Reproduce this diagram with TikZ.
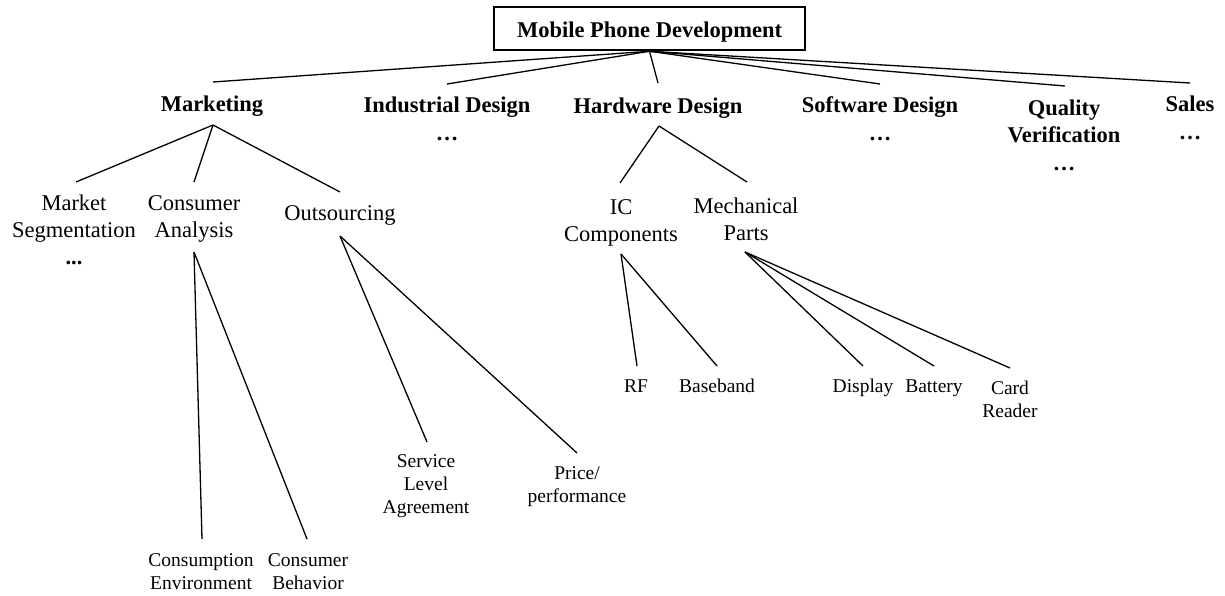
\documentclass[tikz,border=0pt]{standalone}
\usepackage{fontspec}
\setmainfont{Liberation Serif}
\begin{document}
\begin{tikzpicture}[x=1pt,y=-1pt,
  rootbox/.style={draw,line width=2.5pt,minimum width=311pt,minimum height=43pt,
    inner sep=0pt,text height=17pt,text depth=0pt,font=\fontsize{22.5}{27}\selectfont\bfseries},
  lvlone/.style={anchor=base,align=center,inner sep=0pt,font=\fontsize{22.5}{27.5}\selectfont\bfseries},
  lvltwo/.style={anchor=base,align=center,inner sep=0pt,font=\fontsize{22.5}{27}\selectfont},
  lvlthree/.style={anchor=base,align=center,inner sep=0pt,font=\fontsize{19.5}{23}\selectfont},
  link/.style={draw,line width=1.3pt}]
\path[use as bounding box] (0,0) rectangle (1225,595);

% root
\node[rootbox] (root) at (649.5,28.5) {Mobile Phone Development};

% first level (each node sits on the baseline of its last line)
\node[lvlone] (mkt)   at (212,111.5) {Marketing};
\node[lvlone] (ind)   at (447,140) {Industrial Design\\…};
\node[lvlone] (hw)    at (658,113) {Hardware Design};
\node[lvlone] (sw)    at (880,140) {Software Design\\…};
\node[lvlone] (qv)    at (1064,170) {Quality\\Verification\\…};
\node[lvlone] (sales) at (1190,139) {Sales\\…};

% second level
\node[lvltwo] (seg)  at (74,264) {Market\\Segmentation\\\textbf{...}};
\node[lvltwo] (cons) at (194,237) {Consumer\\Analysis};
\node[lvltwo] (outs) at (340,220) {Outsourcing};
\node[lvltwo] (ic)   at (621,241) {IC\\Components};
\node[lvltwo] (mech) at (746,240) {Mechanical\\Parts};

% third level
\node[lvlthree] (cenv)  at (201,589) {Consumption\\Environment};
\node[lvlthree] (cbeh)  at (308,589) {Consumer\\Behavior};
\node[lvlthree] (sla)   at (426,513) {Service\\Level\\Agreement};
\node[lvlthree] (price) at (577,502) {Price/\\performance};
\node[lvlthree] (rf)    at (636,392) {RF};
\node[lvlthree] (bb)    at (717,392) {Baseband};
\node[lvlthree] (disp)  at (863,392) {Display};
\node[lvlthree] (batt)  at (934,392) {Battery};
\node[lvlthree] (card)  at (1010,417) {Card\\Reader};

% root to first level
\draw[link] (root.south) -- ([xshift=1pt,yshift=29.5pt]mkt.base);
\draw[link] (root.south) -- ([yshift=56pt]ind.base);
\draw[link] (root.south) -- ([yshift=30pt]hw.base);
\draw[link] (root.south) -- ([yshift=56pt]sw.base);
\draw[link] (root.south) -- ([xshift=1pt,yshift=84pt]qv.base);
\draw[link] (root.south) -- ([yshift=56pt]sales.base);

% marketing branch
\draw[link] ([xshift=1pt,yshift=-13.5pt]mkt.base) -- ([xshift=2pt,yshift=82pt]seg.base);
\draw[link] ([xshift=1pt,yshift=-13.5pt]mkt.base) -- ([yshift=55pt]cons.base);
\draw[link] ([xshift=1pt,yshift=-13.5pt]mkt.base) -- ([yshift=28pt]outs.base);
\draw[link] ([yshift=-15pt]cons.base) -- ([xshift=1pt,yshift=50pt]cenv.base);
\draw[link] ([yshift=-15pt]cons.base) -- ([xshift=-1pt,yshift=50pt]cbeh.base);
\draw[link] ([yshift=-16pt]outs.base) -- ([xshift=1pt,yshift=71pt]sla.base);
\draw[link] ([yshift=-16pt]outs.base) -- ([yshift=49pt]price.base);

% hardware branch
\draw[link] ([xshift=1pt,yshift=-13pt]hw.base) -- ([xshift=-1pt,yshift=58pt]ic.base);
\draw[link] ([xshift=1pt,yshift=-13pt]hw.base) -- ([xshift=1pt,yshift=58pt]mech.base);
\draw[link] ([yshift=-13pt]ic.base) -- ([xshift=1pt,yshift=26pt]rf.base);
\draw[link] ([yshift=-13pt]ic.base) -- ([yshift=26pt]bb.base);
\draw[link] ([xshift=-1pt,yshift=-12pt]mech.base) -- ([yshift=26pt]disp.base);
\draw[link] ([xshift=-1pt,yshift=-12pt]mech.base) -- ([yshift=26pt]batt.base);
\draw[link] ([xshift=-1pt,yshift=-12pt]mech.base) -- ([yshift=49pt]card.base);
\end{tikzpicture}
\end{document}
